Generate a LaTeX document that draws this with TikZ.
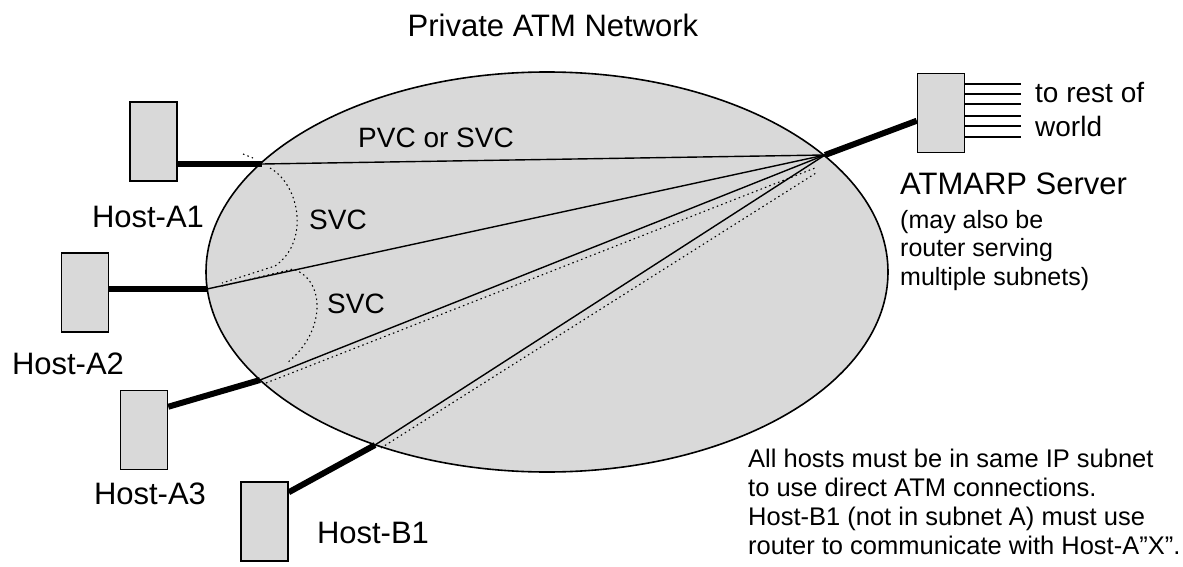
\documentclass[tikz,border=0pt]{standalone}
\usepackage{fontspec}
\setmainfont{Liberation Sans}
\usetikzlibrary{shapes.geometric,calc}
\definecolor{netgray}{RGB}{217,217,217}
\begin{document}
\begin{tikzpicture}[x=1pt,y=-1pt,
  host/.style={draw=black,line width=1.5pt,fill=netgray,minimum width=47pt,minimum height=79pt,inner sep=0pt},
  link/.style={line width=1.4pt},
  trunk/.style={line width=6pt},
  svc/.style={line width=1.1pt,dash pattern=on 1.5pt off 3.2pt},
  wire/.style={line width=1.2pt},
  lbl/.style={inner sep=0pt,font=\fontsize{31}{36}\selectfont},
  mid/.style={inner sep=0pt,font=\fontsize{28}{34}\selectfont,align=left},
  small/.style={inner sep=0pt,font=\fontsize{25}{28.5}\selectfont,align=left},
  note/.style={inner sep=0pt,font=\fontsize{25.5}{28.8}\selectfont,align=left}]
\useasboundingbox (0,0) rectangle (1183,567);
\node[ellipse,draw,line width=1.6pt,fill=netgray,minimum width=682pt,minimum height=400pt,inner sep=0pt] (net) at (547,272) {};
% crossing points on the network border
\coordinate (cA1) at (262,164);
\coordinate (cA2) at (207,289);
\coordinate (cA3) at (260,380);
\coordinate (cB1) at (375,445);
\coordinate (hub) at (825,155);
% hosts
\node[host] (A1) at (153.5,141.5) {};
\node[host] (A2) at (85,292.5) {};
\node[host] (A3) at (144,430) {};
\node[host] (B1) at (264.5,521.5) {};
\node[host] (srv) at (941,113) {};
% access links
\draw[trunk] (A1.east |- cA1) -- (cA1);
\draw[trunk] (A2.east |- cA2) -- (cA2);
\draw[trunk] ($(A3.north east)+(0,17)$) -- (cA3);
\draw[trunk] ($(B1.north east)+(0,11)$) -- (cB1);
\draw[trunk] (hub) -- ($(srv.north west)+(0,48)$);
% virtual circuits to server
\draw[link] (cA1) -- (hub);
\draw[link] (cA2) -- (hub);
\draw[link] (cA3) -- (hub);
\draw[link] (cB1) -- (hub);
% SVCs
\draw[svc] (243,154) -- (253,158);
\draw[svc] (270,168) .. controls (300,185) and (310,242) .. (275,266) -- (222,283);
\draw[svc] (222,286) -- (293,269) .. controls (326,280) and (326,332) .. (287,363);
\draw[svc] (266,383) -- (815,168);
\draw[svc] (381,448) -- (816,173);
% lines to rest of world
\foreach \i/\y in {1/84,2/94,3/104,4/116,5/126,6/137}{
  \coordinate (w\i) at (1021,\y);
  \draw[wire] (srv.east |- w\i) -- (w\i);
}
% texts
\node[lbl,anchor=base] (title) at (553,37) {Private ATM Network};
\node[lbl,anchor=base] (tA1) at (148,227) {Host-A1};
\node[lbl,anchor=base] (tA2) at (68,374) {Host-A2};
\node[lbl,anchor=base] (tA3) at (150,504) {Host-A3};
\node[lbl,anchor=base] (tB1) at (373,543) {Host-B1};
\node[mid,anchor=base west] (tpvc) at (358,147) {PVC or SVC};
\node[mid,anchor=base west] (tsvc1) at (309,229) {SVC};
\node[mid,anchor=base west] (tsvc2) at (327,313) {SVC};
\node[mid,anchor=base west] (trest) at (1035,137) {to rest of\\world};
\node[lbl,anchor=base west] (tsrv) at (900,194) {ATMARP Server};
\node[small,anchor=base west] (tsrv2) at (900,285) {(may also be\\router serving\\multiple subnets)};
\node[note,anchor=base west] (tnote) at (748,554) {All hosts must be in same IP subnet\\to use direct ATM connections.\\Host-B1 (not in subnet A) must use\\router to communicate with Host-A”X”.};
\end{tikzpicture}
\end{document}
